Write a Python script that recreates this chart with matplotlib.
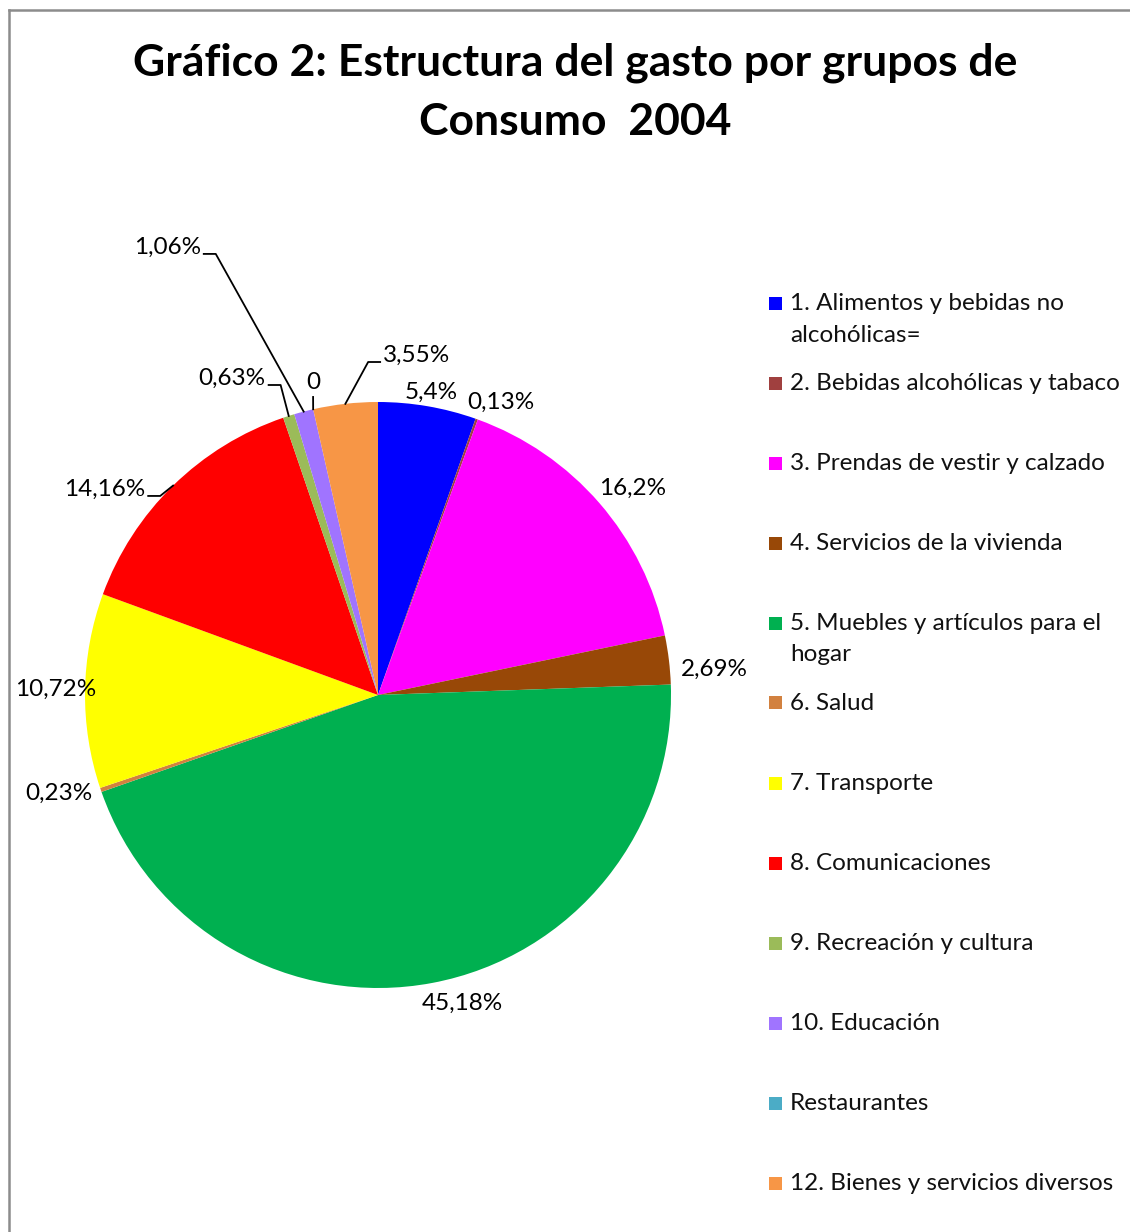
import matplotlib
matplotlib.use("Agg")
import numpy as np
import matplotlib.pyplot as plt
from matplotlib.lines import Line2D
from matplotlib.patches import Rectangle

plt.rcParams["font.family"] = ["Lato", "DejaVu Sans"]

# ---- data -------------------------------------------------------------
categories = [
    "1. Alimentos y bebidas no\nalcohólicas=",
    "2. Bebidas alcohólicas y tabaco",
    "3. Prendas de vestir y calzado",
    "4. Servicios de la vivienda",
    "5. Muebles y artículos para el\nhogar",
    "6. Salud",
    "7. Transporte",
    "8. Comunicaciones",
    "9. Recreación y cultura",
    "10. Educación",
    "Restaurantes",
    "12. Bienes y servicios diversos",
]
shares = [5.4, 0.13, 16.2, 2.69, 45.18, 0.23, 10.72, 14.16, 0.63, 1.06, 0, 3.55]
colors = ["#0000FF", "#A0403F", "#FF00FF", "#984807", "#00B050", "#D2813F",
          "#FFFF00", "#FF0000", "#9BBB59", "#A074FF", "#4BACC6", "#F79646"]

# label placement: radius and clockwise angle shift from wedge middle
lab_r = [1.05, 1.085, 1.12, 1.15, 1.09, 1.14, 1.10, 1.007, 1.109, 1.604, 1.041, 1.137]
lab_da = [0.2, 3.1, 1.9, 2.5, -4.6, 1.7, 0.1, -3.2, 0.3, -5.5, 0.5, 4.7]
leader = [None] * 7 + ["left", "left", "left", "down", "right"]


def fmt(v):
    if v == 0:
        return "0"
    return f"{v:g}".replace(".", ",") + "%"


W, H = 1130, 1232
fig = plt.figure(figsize=(W / 100, H / 100), dpi=100)

# pie axes: centre at (378, 695) px, radius 293 px
R = 293.0
half = 378
ax = fig.add_axes([(378 - half) / W, (H - 695 - half) / H, 2 * half / W, 2 * half / H])
wedges, _ = ax.pie(shares, colors=colors, startangle=90, counterclock=False,
                   radius=1, wedgeprops=dict(linewidth=0))
lim = half / R
ax.set_xlim(-lim, lim)
ax.set_ylim(-lim, lim)
ax.set_aspect("equal")
ax.axis("off")

tail = 12 / R
fs = 17.5
for w, v, r, da, ld in zip(wedges, shares, lab_r, lab_da, leader):
    mid = (w.theta1 + w.theta2) / 2
    a = np.deg2rad(mid - da)
    x, y = r * np.cos(a), r * np.sin(a)
    txt = fmt(v)
    if ld is None:
        ax.text(x, y, txt, ha="center", va="center", fontsize=fs)
        continue
    ex, ey = np.cos(np.deg2rad(mid)), np.sin(np.deg2rad(mid))
    if ld == "down":
        ax.plot([ex, x], [ey, y], color="black", lw=1.3, clip_on=False)
        ax.text(x, y + 4 / R, txt, ha="center", va="bottom", fontsize=fs)
    elif ld == "left":
        ax.plot([ex, x, x - tail], [ey, y, y], color="black", lw=1.3, clip_on=False)
        ax.text(x - tail - 3 / R, y, txt, ha="right", va="baseline", fontsize=fs)
    else:
        ax.plot([ex, x, x + tail], [ey, y, y], color="black", lw=1.3, clip_on=False)
        ax.text(x + tail + 3 / R, y, txt, ha="left", va="baseline", fontsize=fs)

# ---- legend (drawn by hand to match spacing) --------------------------
for i, (lab, c) in enumerate(zip(categories, colors)):
    yc = 303 + 80 * i
    fig.patches.append(Rectangle((769 / W, 1 - (yc + 6.5) / H), 13 / W, 13 / H,
                                 transform=fig.transFigure, facecolor=c,
                                 edgecolor="none"))
    for k, line in enumerate(lab.split("\n")):
        fig.text(790 / W, 1 - (yc + 32 * k) / H, line, ha="left", va="center",
                 fontsize=fs, color="#111111")

# ---- title --------------------------------------------------------------
fig.text(575 / W, 1 - 63 / H, "Gráfico 2: Estructura del gasto por grupos de",
         ha="center", va="center", fontsize=32, fontweight="bold")
fig.text(575 / W, 1 - 122 / H, "Consumo  2004",
         ha="center", va="center", fontsize=32, fontweight="bold")

# chart-area border (left and top visible)
fig.add_artist(Line2D([8.5 / W, 8.5 / W], [0, 1 - 9.5 / H], transform=fig.transFigure,
                      color="#8C8C8C", lw=1.8))
fig.add_artist(Line2D([8.5 / W, 1], [1 - 9.5 / H, 1 - 9.5 / H], transform=fig.transFigure,
                      color="#8C8C8C", lw=1.8))

fig.savefig("out.png", dpi=100)
